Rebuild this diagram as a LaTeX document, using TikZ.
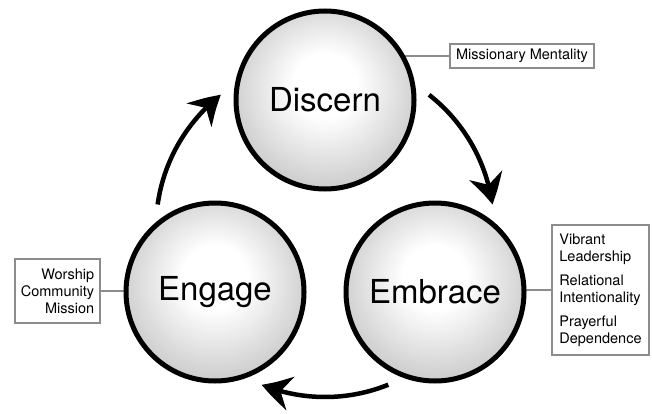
\documentclass[tikz,border=0pt]{standalone}
\usepackage{fontspec}
\setmainfont{TeX Gyre Heros}
\usetikzlibrary{arrows.meta,bending,backgrounds}

\newcommand{\hubr}[0]{169}
\definecolor{boxgray}{gray}{0.55}
\pgfdeclareradialshading{stageball}{\pgfpoint{0bp}{5bp}}{color(0bp)=(white); color(9bp)=(white); color(50bp)=(black!45)}

\begin{document}
\begin{tikzpicture}[x=1pt, y=1pt,
  stage/.style={circle, draw=black, line width=5pt, minimum size=178pt, inner sep=0pt, shade, shading=stageball, font=\fontsize{33}{36}\selectfont},
  note/.style={draw=boxgray, line width=1.2pt, inner sep=4pt, font=\fontsize{14.5}{17}\selectfont},
  link/.style={draw=boxgray, line width=1.2pt},
  turn/.style={line width=4.5pt, -{Stealth[length=30pt, width=34pt, inset=10pt, bend]}}]

\useasboundingbox (0,0) rectangle (652,413);

\node[stage] (discern) at (325,313) {Discern};
\node[stage] (engage) at (215,121) {Engage};
\node[stage] (embrace) at (435,121) {Embrace};
\coordinate (hub) at (325,185);

\node[note, minimum width=144pt, minimum height=24pt] (mentality) at (522,357) {Missionary Mentality};
\node[note, minimum width=97pt, minimum height=130pt, align=left] (traits) at (600.5,123) {Vibrant\\Leadership\\[7pt]Relational\\Intentionality\\[7pt]Prayerful\\Dependence};
\node[note, minimum width=85pt, minimum height=64pt, align=right] (practices) at (57.5,122) {Worship\\Community\\Mission};

\begin{scope}[on background layer]
\draw[link] (mentality.west) -- (mentality.west -| discern.center);
\draw[link] (traits.west) -- (traits.west -| embrace.center);
\draw[link] (practices.east) -- (practices.east -| engage.center);
\end{scope}

\foreach \a in {172,52,-68}
  \draw[turn] (hub) ++(\a:\hubr) arc[start angle=\a, end angle=\a-44, radius=\hubr];

\end{tikzpicture}
\end{document}
